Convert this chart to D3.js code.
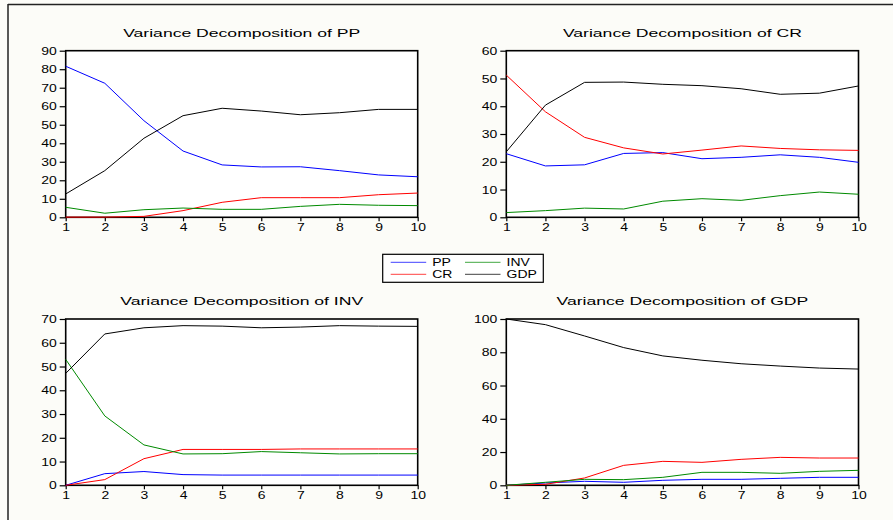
<!DOCTYPE html>
<html>
<head>
<meta charset="utf-8">
<title>Variance Decomposition</title>
<script src="https://cdn.jsdelivr.net/npm/d3@7"></script>
<style>
body { margin: 0; background: #fcfcf8; }
text { font-family: Arial, "Liberation Sans", sans-serif; fill: #000; }
</style>
</head>
<body>
<svg id="chart" width="893" height="520"></svg>
<script>
// periods (x axis)
var periods = [1, 2, 3, 4, 5, 6, 7, 8, 9, 10];

// Variance decomposition of PP
var pp_PP  = [81.6, 72.4, 52.2, 35.8, 28.3, 27.2, 27.3, 25.2, 22.9, 21.9];
var pp_CR  = [0.1, 0.1, 0.5, 3.6, 8.1, 10.6, 10.6, 10.6, 12.2, 13.1];
var pp_INV = [5.4, 2.2, 4.1, 5.0, 4.3, 4.3, 5.9, 7.0, 6.5, 6.3];
var pp_GDP = [12.6, 25.2, 42.7, 54.9, 58.9, 57.4, 55.4, 56.5, 58.3, 58.3];

// Variance decomposition of CR
var cr_PP  = [22.9, 18.5, 18.9, 23.0, 23.3, 21.1, 21.6, 22.5, 21.6, 19.8];
var cr_CR  = [51.2, 38.0, 28.8, 25.0, 22.8, 24.2, 25.7, 24.8, 24.3, 24.1];
var cr_INV = [1.7, 2.4, 3.3, 3.0, 5.8, 6.7, 6.1, 7.8, 9.1, 8.3];
var cr_GDP = [23.6, 40.4, 48.6, 48.7, 47.9, 47.4, 46.3, 44.3, 44.7, 47.3];

// Variance decomposition of INV
var inv_PP  = [0.0, 4.9, 5.8, 4.5, 4.3, 4.3, 4.3, 4.3, 4.3, 4.3];
var inv_CR  = [0.0, 2.4, 11.2, 15.1, 15.1, 15.1, 15.3, 15.3, 15.3, 15.3];
var inv_INV = [53.0, 29.2, 17.0, 13.2, 13.3, 14.2, 13.7, 13.2, 13.3, 13.3];
var inv_GDP = [47.1, 63.7, 66.3, 67.2, 67.0, 66.3, 66.6, 67.2, 67.0, 66.9];

// Variance decomposition of GDP
var gdp_PP  = [0.0, 1.4, 2.4, 1.8, 3.0, 3.6, 3.6, 4.2, 4.8, 4.8];
var gdp_CR  = [0.0, 0.6, 4.4, 12.0, 14.4, 13.8, 15.6, 16.8, 16.4, 16.4];
var gdp_INV = [0.0, 1.8, 3.6, 3.4, 4.8, 7.8, 7.8, 7.2, 8.4, 9.0];
var gdp_GDP = [100.0, 96.6, 89.8, 82.8, 77.8, 75.2, 73.1, 71.7, 70.5, 69.9];

var seriesNames = ["PP", "CR", "INV", "GDP"];
var seriesColors = ["#0000ff", "#ff0000", "#008a00", "#000000"];

var panels = [
  {title: "Variance Decomposition of PP",  max: 90,  step: 10, x0: 65.7,  x1: 417.7, y0: 50.7, y1: 217.3, series: [pp_PP, pp_CR, pp_INV, pp_GDP]},
  {title: "Variance Decomposition of CR",  max: 60,  step: 10, x0: 506.3, x1: 858.5, y0: 50.7, y1: 217.3, series: [cr_PP, cr_CR, cr_INV, cr_GDP]},
  {title: "Variance Decomposition of INV", max: 70,  step: 10, x0: 65.7,  x1: 417.7, y0: 319,  y1: 485.3, series: [inv_PP, inv_CR, inv_INV, inv_GDP]},
  {title: "Variance Decomposition of GDP", max: 100, step: 20, x0: 506.3, x1: 858.5, y0: 319,  y1: 485.3, series: [gdp_PP, gdp_CR, gdp_INV, gdp_GDP]}
];

var svg = d3.select("#chart");
var SX = 1.4; // the original text is stretched horizontally

// outer frame (top and left edges only)
svg.append("line").attr("x1", 8).attr("x2", 893).attr("y1", 4.5).attr("y2", 4.5)
  .attr("stroke", "#222").attr("stroke-width", 1.5);
svg.append("line").attr("x1", 8).attr("x2", 8).attr("y1", 4).attr("y2", 520)
  .attr("stroke", "#222").attr("stroke-width", 1.5);

panels.forEach(function(p) {
  var x = d3.scaleLinear().domain([1, 10]).range([p.x0, p.x1]);
  var y = d3.scaleLinear().domain([0, p.max]).range([p.y1, p.y0]);
  var g = svg.append("g");

  g.append("rect")
    .attr("x", p.x0).attr("y", p.y0)
    .attr("width", p.x1 - p.x0).attr("height", p.y1 - p.y0)
    .attr("fill", "#fff").attr("stroke", "#000").attr("stroke-width", 1.6);

  // title
  g.append("text")
    .attr("transform", "translate(" + ((p.x0 + p.x1) / 2) + "," + (p.y0 - 14) + ") scale(1.6,1)")
    .attr("text-anchor", "middle")
    .style("font-size", "11px")
    .attr("fill", "#111")
    .text(p.title);

  // y axis
  var ya = g.append("g").attr("transform", "translate(" + p.x0 + ",0)")
    .call(d3.axisLeft(y).tickValues(d3.range(0, p.max + 1, p.step)).tickSize(6).tickFormat(d3.format("d")));
  ya.select(".domain").remove();
  ya.selectAll(".tick line").attr("stroke", "#000").attr("stroke-width", 1.2);
  ya.selectAll(".tick text")
    .attr("x", 0).attr("dy", null)
    .attr("transform", "translate(-9,3.6) scale(" + SX + ",1)")
    .attr("text-anchor", "end")
    .style("font-size", "10px").attr("fill", "#000");

  // x axis
  var xa = g.append("g").attr("transform", "translate(0," + p.y1 + ")")
    .call(d3.axisBottom(x).tickValues(periods).tickSize(4).tickFormat(d3.format("d")));
  xa.select(".domain").remove();
  xa.selectAll(".tick line").attr("stroke", "#000").attr("stroke-width", 1.2);
  xa.selectAll(".tick text")
    .attr("y", 0).attr("dy", null)
    .attr("transform", "translate(0,13.7) scale(" + SX + ",1)")
    .attr("text-anchor", "middle")
    .style("font-size", "10px").attr("fill", "#000");

  var line = d3.line()
    .x(function(d, i) { return x(periods[i]); })
    .y(function(d) { return y(d); });

  p.series.forEach(function(s, i) {
    g.append("path")
      .datum(s)
      .attr("d", line)
      .attr("fill", "none")
      .attr("stroke", seriesColors[i])
      .attr("stroke-width", 1);
  });
});

// legend
var lg = svg.append("g");
lg.append("rect").attr("x", 382.7).attr("y", 254.3).attr("width", 160.6).attr("height", 28)
  .attr("fill", "#fff").attr("stroke", "#000").attr("stroke-width", 1.2);
seriesNames.forEach(function(name, i) {
  var col = Math.floor(i / 2), row = i % 2;
  var lx = 390.7 + col * 74.3, ly = 262.3 + row * 12;
  lg.append("line").attr("x1", lx).attr("x2", lx + 35.5).attr("y1", ly).attr("y2", ly)
    .attr("stroke", seriesColors[i]).attr("stroke-width", 1).attr("stroke-opacity", 0.75);
  lg.append("text")
    .attr("transform", "translate(" + (lx + 41.5) + "," + (ly + 3.8) + ") scale(" + SX + ",1)")
    .style("font-size", "10px")
    .text(name);
});
</script>
</body>
</html>
